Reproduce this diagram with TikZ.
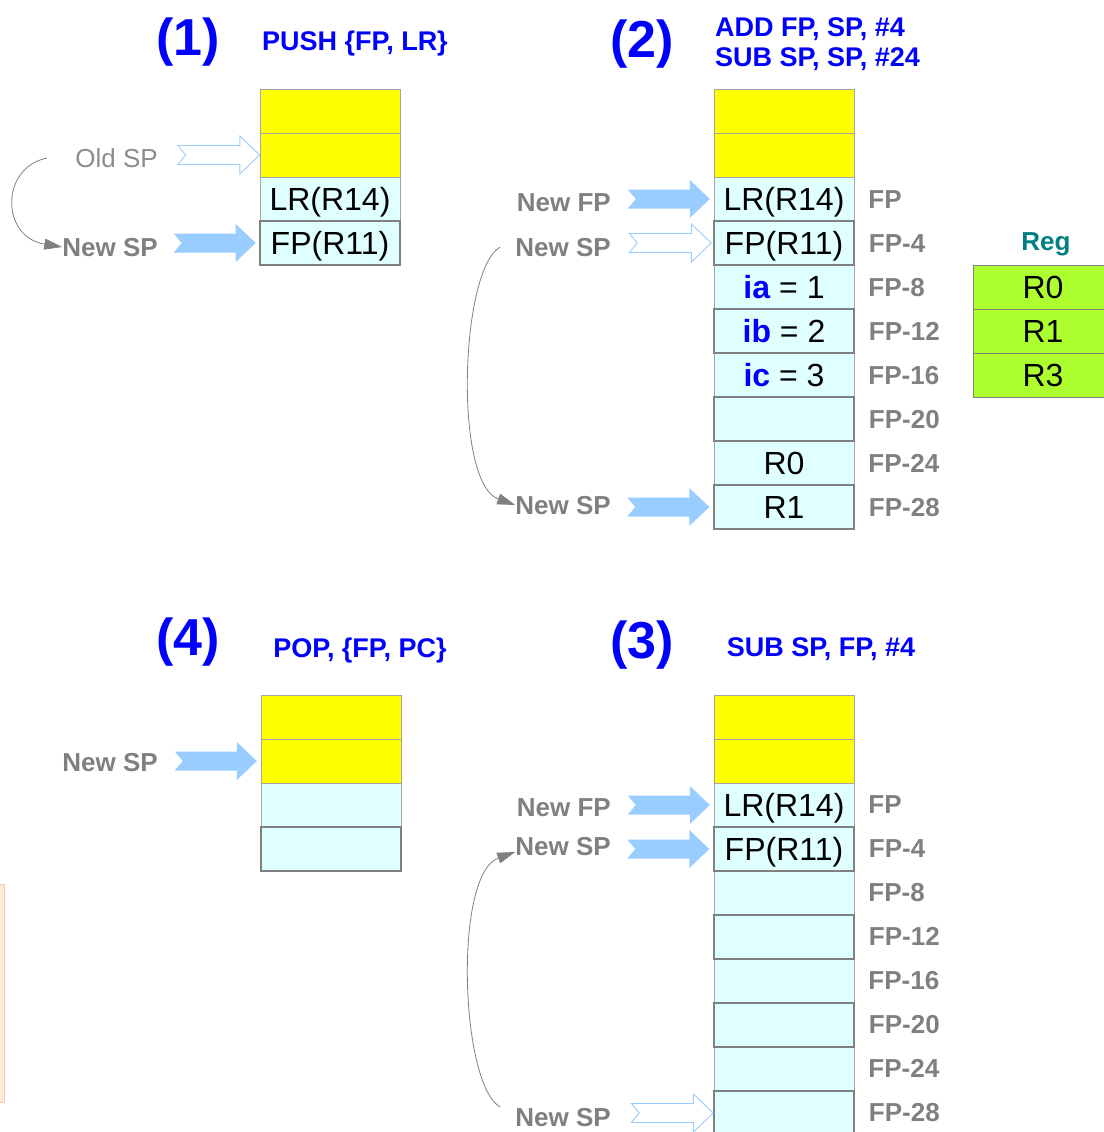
\documentclass[tikz,border=0pt]{standalone}
\usepackage{fontspec}
\setmainfont{Liberation Sans}
\usepackage{tikz}
\usetikzlibrary{arrows.meta}
\definecolor{cellcyan}{RGB}{224,255,255}
\definecolor{oldyellow}{RGB}{255,255,0}
\definecolor{arrblue}{RGB}{153,204,255}
\definecolor{reggreen}{RGB}{173,255,47}
\definecolor{regteal}{RGB}{0,128,128}
\definecolor{peach}{RGB}{255,235,210}
\definecolor{pinkline}{RGB}{255,192,203}
\tikzset{
  font={\fontsize{26pt}{30pt}\selectfont},
  cell/.style={draw=gray!70, fill=cellcyan, minimum width=140pt, minimum height=44pt, inner sep=0pt, text height=23pt, text depth=0pt, font={\fontsize{32pt}{36pt}\selectfont}},
  darkcell/.style={cell, draw=gray, line width=1.4pt},
  oldcell/.style={cell, fill=oldyellow},
  regcell/.style={cell, fill=reggreen, draw=gray},
  sptext/.style={inner sep=0pt, text height=19pt, text depth=0pt, text=gray, font={\fontsize{26pt}{30pt}\selectfont\bfseries}},
  fptext/.style={sptext, anchor=west},
  bigno/.style={inner sep=0pt, text=blue, font={\fontsize{52pt}{56pt}\selectfont\bfseries}},
  instr/.style={inner sep=0pt, text=blue, font={\fontsize{27pt}{29.5pt}\selectfont\bfseries}},
  hop/.style={draw=gray, line width=0.8pt, -{Triangle[length=18pt,width=11pt]}},
  fatarrow/.pic={\path[pic actions] (0,0) -- (-20,-19) -- (-20,-9.5) -- (-82,-9.5) -- (-74,0) -- (-82,9.5) -- (-20,9.5) -- (-20,19) -- cycle;},
  solidarr/.style={fill=arrblue},
  hollowarr/.style={draw=arrblue, fill=white, line width=0.9pt}
}

\begin{document}
\begin{tikzpicture}[x=1pt, y=-1pt]
\useasboundingbox (0,0) rectangle (1103,1132);

%% the edge of a box that sits outside the page on the left
\draw[draw=pinkline, fill=peach] (-10,884) rectangle (4,1102);

%% (1) PUSH
\node[bigno] (t1) at (188,42) {(1)};
\node[instr] (i1) at (355,44) {PUSH \{FP, LR\}};
\foreach \i in {1,2} \node[oldcell] (p1c\i) at (330,67+44*\i) {};
\node[cell] (p1c3) at (330,199) {LR(R14)};
\node[darkcell, line width=2.6pt] (p1c4) at (330,243) {FP(R11)};
\node[sptext, anchor=east, text=gray!90, font={\fontsize{26pt}{30pt}\selectfont}] (oldsp1) at (158,158) {Old SP};
\node[sptext, anchor=east] (newsp1) at (158,247) {New SP};
\pic[hollowarr] at (p1c2.west) {fatarrow};
\pic[solidarr] at ([xshift=-3pt]p1c4.west) {fatarrow};
\draw[hop] ([xshift=-28pt]oldsp1.west) .. controls +(-47,9) and +(-62,-10) .. (newsp1.west);

%% (2) ADD / SUB
\node[bigno] (t2) at (642,44) {(2)};
\node[instr, anchor=west, align=left] (i2) at (715,44) {ADD FP, SP, \#4\\SUB SP, SP, \#24};
\foreach \i in {1,2} \node[oldcell] (p2c\i) at (784,67+44*\i) {};
\foreach \i/\txt in {3/LR(R14), 5/{\textcolor{blue}{\textbf{ia}} = 1}, 7/{\textcolor{blue}{\textbf{ic}} = 3}, 9/R0}
  \node[cell] (p2c\i) at (784,67+44*\i) {\txt};
\foreach \i/\txt in {4/FP(R11), 6/{\textcolor{blue}{\textbf{ib}} = 2}, 8/{}, 10/R1}
  \node[darkcell] (p2c\i) at (784,67+44*\i) {\txt};
\foreach \i/\lab in {3/FP, 4/FP-4, 5/FP-8, 6/FP-12, 7/FP-16, 8/FP-20, 9/FP-24, 10/FP-28}
  \node[fptext] (p2l\i) at ([xshift=14pt]p2c\i.east) {\lab};
\node[sptext, anchor=east] (newfp2) at (611,202) {New FP};
\node[sptext, anchor=east] (newsp2) at (611,247) {New SP};
\node[sptext, anchor=east] (newsp2b) at (611,505) {New SP};
\pic[solidarr] at ([xshift=-4pt]p2c3.west) {fatarrow};
\pic[hollowarr] at ([xshift=-2pt]p2c4.west) {fatarrow};
\pic[solidarr] at ([xshift=-4pt]p2c10.west) {fatarrow};
\draw[hop] ([xshift=-15pt]newsp2.west) .. controls +(-40,22) and +(-62,-22) .. (newsp2b.west);

%% registers
\node[sptext, text=regteal] (reg) at (1046,241) {Reg};
\foreach \i/\r in {0/R0, 1/R1, 2/R3}
  \node[regcell] (rg\i) at (1043,287+44*\i) {\r};

%% (3) SUB SP, FP
\node[bigno] (t3) at (642,645) {(3)};
\node[instr] (i3) at (821,649) {SUB SP, FP, \#4};
\foreach \i in {1,2} \node[oldcell] (p3c\i) at (784,673+44*\i) {};
\foreach \i/\txt in {3/LR(R14), 5/{}, 7/{}, 9/{}}
  \node[cell] (p3c\i) at (784,673+44*\i) {\txt};
\foreach \i/\txt in {4/FP(R11), 6/{}, 8/{}, 10/{}}
  \node[darkcell] (p3c\i) at (784,673+44*\i) {\txt};
\foreach \i/\lab in {3/FP, 4/FP-4, 5/FP-8, 6/FP-12, 7/FP-16, 8/FP-20, 9/FP-24, 10/FP-28}
  \node[fptext] (p3l\i) at ([xshift=14pt,yshift=1pt]p3c\i.east) {\lab};
\node[sptext, anchor=east] (newfp3) at (611,807) {New FP};
\node[sptext, anchor=east] (newsp3) at (611,846) {New SP};
\node[sptext, anchor=east] (newsp3b) at (611,1117) {New SP};
\pic[solidarr] at ([xshift=-4pt]p3c3.west) {fatarrow};
\pic[solidarr] at ([xshift=-4pt]p3c4.west) {fatarrow};
\pic[hollowarr] at (p3c10.west) {fatarrow};
\draw[hop] ([xshift=-15pt,yshift=10pt]newsp3b.west) .. controls +(-40,-22) and +(-62,22) .. ([yshift=-6pt]newsp3.west);

%% (4) POP
\node[bigno] (t4) at (188,642) {(4)};
\node[instr] (i4) at (360,651) {POP, \{FP, PC\}};
\foreach \i in {1,2} \node[oldcell] (p4c\i) at (331,673+44*\i) {};
\node[cell] (p4c3) at (331,805) {};
\node[darkcell, line width=2pt] (p4c4) at (331,849) {};
\node[sptext, anchor=east] (newsp4) at (158,762) {New SP};
\pic[solidarr] at ([xshift=-4pt]p4c2.west) {fatarrow};
\end{tikzpicture}
\end{document}
